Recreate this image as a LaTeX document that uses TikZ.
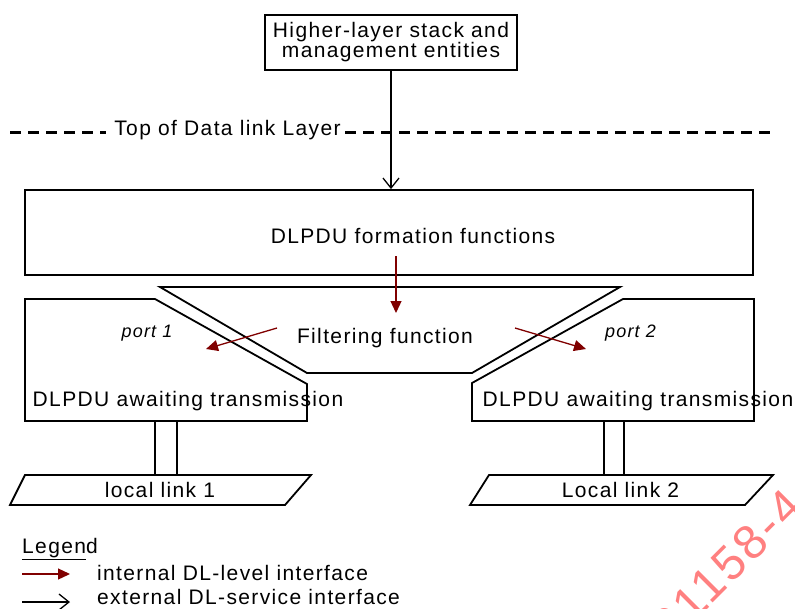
\documentclass[tikz,border=0pt]{standalone}
\usepackage{fontspec}
\setmainfont{Liberation Sans}[LetterSpace=6.5]
\usetikzlibrary{arrows.meta}
\definecolor{intred}{RGB}{128,0,0}
\definecolor{wmark}{RGB}{255,128,128}
\tikzset{
  boxline/.style={draw=black, line width=1.8pt},
  lbl/.style={inner sep=0pt, anchor=base, font=\fontsize{21}{21}\selectfont},
  portlbl/.style={inner sep=0pt, anchor=base, font=\fontsize{18}{18}\selectfont\itshape},
  intarrow/.style={draw=intred, line width=1.3pt, -{Triangle[length=12pt,width=11pt]}},
  extarrow/.style={draw=black, line width=1.3pt, -{Straight Barb[length=10pt,width=16pt,line width=1.3pt]}},
}
\begin{document}
\begin{tikzpicture}[x=1pt, y=-1pt]
\useasboundingbox (0,0) rectangle (795,608);
\clip (0,0) rectangle (795,608);

% higher-layer entities
\node[boxline, minimum width=252pt, minimum height=55pt, inner sep=0pt,
      align=center, font=\fontsize{21}{20}\selectfont] (hls) at (391,42.5)
      {Higher-layer stack and\\management entities};

% top of the data link layer
\draw[line width=3pt, dash pattern=on 11pt off 7pt] (10,132) -- (106,132);
\draw[line width=3pt, dash pattern=on 11pt off 7pt] (345,132) -- (775,132);
\node[lbl] (top) at (227.5,135) {Top of Data link Layer};

% DLPDU formation
\node[boxline, minimum width=728pt, minimum height=85pt, inner sep=0pt] (form) at (389,232.5) {};
\node[lbl] (formtxt) at (413,243) {DLPDU formation functions};

% filtering function
\draw[boxline, line join=miter] (160,287) -- (620,287) -- (472,373) -- (307,373) -- cycle;
\node[lbl] (filt) at (385,343) {Filtering function};

% port queues
\draw[boxline] (25,299) -- (155,299) -- (307,384) -- (307,421) -- (25,421) -- cycle;
\draw[boxline] (472,383) -- (623,299) -- (754,299) -- (754,421) -- (472,421) -- cycle;
\node[portlbl] (p1) at (147,337) {port 1};
\node[portlbl] (p2) at (630.5,337) {port 2};
\node[lbl] (q1) at (188,406) {DLPDU awaiting transmission};
\node[lbl] (q2) at (638,406) {DLPDU awaiting transmission};

% stems down to the links
\draw[line width=1.8pt] (155,421) -- (155,475) (177,421) -- (177,475);
\draw[line width=1.8pt] (604,421) -- (604,475) (624,421) -- (624,475);

% local links
\draw[boxline] (25,475) -- (311,475) -- (285,505) -- (10,505) -- cycle;
\draw[boxline] (489,475) -- (773,475) -- (745,505) -- (470,505) -- cycle;
\node[lbl] (l1) at (160,497) {local link 1};
\node[lbl] (l2) at (620.5,497) {Local link 2};

% interfaces
\draw[extarrow] (hls.south) -- (form.north -| hls.south);
\coordinate (fa) at (396,256);
\coordinate (fb) at (396,313);
\draw[intarrow] (fa) -- (fb);
\coordinate (la) at (277,328);
\coordinate (lb) at (206,349);
\draw[intarrow] (la) -- (lb);
\coordinate (ra) at (515,328);
\coordinate (rb) at (586,349);
\draw[intarrow] (ra) -- (rb);

% legend
\node[lbl, anchor=base west] (leg) at (22,553) {\underline{Legen}d};
\coordinate (ia) at (22,574);
\coordinate (ib) at (70,574);
\draw[intarrow] (ia) -- (ib);
\node[lbl, anchor=base west] (intl) at (97,580) {internal DL-level interface};
\coordinate (ea) at (22,602);
\coordinate (eb) at (70,602);
\draw[extarrow] (ea) -- (eb);
\node[lbl, anchor=base west] (extl) at (97,604) {external DL-service interface};

% document mark
\node[inner sep=0pt, rotate=45, text=wmark, font=\fontsize{48}{48}\selectfont] (wm) at (727,566) {61158-4};
\end{tikzpicture}
\end{document}
